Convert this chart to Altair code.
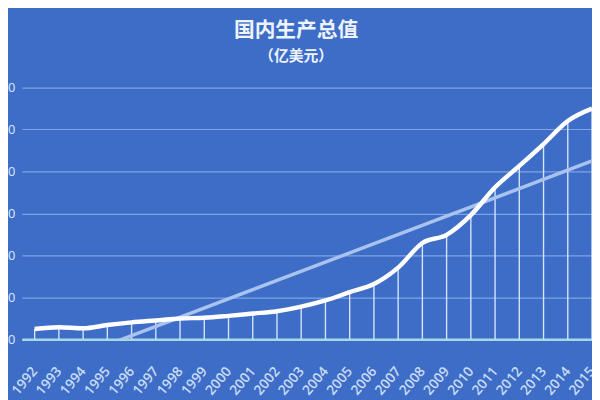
import altair as alt
import pandas as pd

years = list(range(1992, 2016))
gdp = [121, 141, 129, 168, 200, 223, 246, 255, 278, 305, 332, 387,
       461, 560, 657, 853, 1147, 1244, 1479, 1811, 2066, 2327, 2602, 2750]
y_ticks = [0, 500, 1000, 1500, 2000, 2500, 3000]

source = pd.DataFrame({"year": years, "gdp": gdp})

bg = "#3e6dc8"
font = "Noto Sans CJK SC"

x_enc = alt.X(
    "year:Q",
    scale=alt.Scale(domain=[1991.47, 2015], nice=False, zero=False),
    axis=alt.Axis(
        values=years, format="d", title=None, grid=False, ticks=False,
        labelAngle=-50, labelAlign="right", labelBaseline="middle",
        labelPadding=30, labelFontSize=14, labelColor="#c8dcf2",
        labelFont="Open Sans", labelFontWeight=600,
        domainColor="#a6d8e6", domainWidth=2.5, labelOverlap=False,
    ),
)
y_enc = alt.Y(
    "gdp:Q",
    scale=alt.Scale(domain=[0, 3000], nice=False),
    axis=alt.Axis(
        values=y_ticks, title=None, domain=False, ticks=False,
        gridColor="#7ea4e6", gridWidth=1.2, labelPadding=7,
        labelFontSize=13, labelColor="#dfe8f8", labelFont="Open Sans",
    ),
)

base = alt.Chart(source).encode(x=x_enc)

drops = base.mark_rule(color="#d4e4fa", strokeWidth=1.4).encode(
    y=y_enc, y2=alt.datum(0)
)

trend = (
    base.transform_regression("year", "gdp")
    .mark_line(color="#a9c3ef", strokeWidth=3.5, clip=True)
    .encode(y=y_enc)
)

line = base.mark_line(
    color="#ffffff", strokeWidth=4.5, interpolate="monotone"
).encode(y=y_enc)

chart = (
    (drops + trend + line)
    .properties(
        width=578,
        height=255,
        autosize=alt.AutoSizeParams(type="none"),
        padding={"left": 14, "top": 78, "right": 0, "bottom": 59},
        background=bg,
        title=alt.TitleParams(
            text="国内生产总值",
            subtitle="（亿美元）",
            anchor="middle",
            dx=-11,
            offset=18,
            font=font,
            fontSize=21,
            fontWeight="bold",
            color="#eef4fd",
            subtitleFont=font,
            subtitleFontSize=15,
            subtitleFontWeight="bold",
            subtitleColor="#eef4fd",
            subtitlePadding=8,
        ),
    )
    .configure_view(stroke=None)
)

chart.save("out.html", embed_options={"renderer": "svg", "actions": False})
